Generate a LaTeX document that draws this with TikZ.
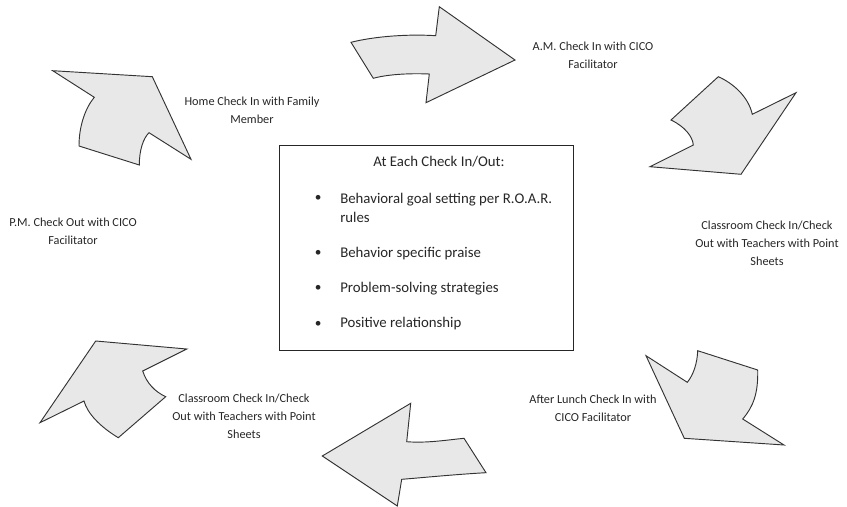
\documentclass[tikz,border=0pt]{standalone}
\usepackage{fontspec}
\setmainfont{Carlito}

\begin{document}
\begin{tikzpicture}[x=0.75pt,y=-0.75pt]
        \tikzstyle{block arrow} = [draw=black!80, line width=0.7pt, fill=black!9, line join=miter]
        \tikzstyle{stage} = [align=center, font=\fontsize{9.2}{13.4}\selectfont, text=black!85, inner sep=0pt]
        \tikzstyle{frame} = [draw=black!85, line width=0.6pt, minimum width=220.5pt, minimum height=153.75pt]
        \tikzstyle{point} = [anchor=west, align=left, font=\fontsize{11.1}{14.3}\selectfont, text=black!85, inner sep=0pt]
        \tikzstyle{dot} = [font=\fontsize{10}{12}\selectfont, text=black!85, inner sep=0pt]

        \useasboundingbox (0,0) rectangle (847,507);

        % the six curved block arrows
        \draw[block arrow] (52.7,70.7) -- (152.3,76.7) -- (191,159.3) -- (149,132.7)
            .. controls (143.3,138.3) and (139.3,150) .. (139.3,165) -- (79,146)
            .. controls (79,126.7) and (85,108.3) .. (94.3,97.3) -- cycle;
        \draw[block arrow] (351,42.3) .. controls (376,36) and (410,34) .. (435.7,35.7)
            -- (439.3,6.7) -- (515,60) -- (426,102.7) -- (429.3,74)
            .. controls (405,73) and (385,75) .. (373.3,78.3) -- cycle;
        \draw[block arrow] (718.3,76.7) .. controls (733.3,83.3) and (748.3,96.7) .. (752.3,114.3)
            -- (796,92.7) -- (741,174.3) -- (650,166.7) -- (693.3,145)
            .. controls (692.7,136.7) and (685,126.7) .. (671,120) -- cycle;
        \draw[block arrow] (646,355.7) -- (687.3,382.3)
            .. controls (693.3,375) and (697.3,363.3) .. (697.7,350.7) -- (757.7,370)
            .. controls (758.3,393.3) and (753.3,406.7) .. (742.7,419)
            -- (784,445) -- (684.3,438.3) -- cycle;
        \draw[block arrow] (410.7,403.3) -- (406.7,441.7)
            .. controls (426.7,443.3) and (446.7,440) .. (464,438.3) -- (486,472.7)
            .. controls (456.7,474.3) and (426.7,477.3) .. (401.7,479.3)
            -- (397.3,506) -- (322.3,456) -- cycle;
        \draw[block arrow] (95.7,341) -- (186.7,349) -- (142.7,371)
            .. controls (146.7,383.3) and (155,391.7) .. (165.7,396.7) -- (118.3,437.7)
            .. controls (100,426.7) and (87.3,413.3) .. (84,401) -- (40,422.7) -- cycle;

        % stages round the cycle
        \node[stage] (home) at (252,110.5) {Home Check In with Family\\Member};
        \node[stage] (am) at (593,55) {A.M. Check In with CICO\\Facilitator};
        \node[stage] (class in) at (767,243) {Classroom Check In/Check\\Out with Teachers with Point\\Sheets};
        \node[stage] (lunch) at (593,408.5) {After Lunch Check In with\\CICO Facilitator};
        \node[stage] (class out) at (244,416) {Classroom Check In/Check\\Out with Teachers with Point\\Sheets};
        \node[stage] (pm) at (73,231.5) {P.M. Check Out with CICO\\Facilitator};

        % centre box
        \node[frame] (box) at (426,247.5) {};
        \node[point, anchor=center] (title) at (439,161.5) {At Each Check In/Out:};
        \node[dot] (b1) at (318.3,198.3) {\textbullet};
        \node[dot] (b2) at (318.3,253.3) {\textbullet};
        \node[dot] (b3) at (318.3,288.3) {\textbullet};
        \node[dot] (b4) at (318.3,324) {\textbullet};
        \node[point] (goal) at (340,207.7) {Behavioral goal setting per R.O.A.R.\\rules};
        \node[point] (praise) at (340,253.3) {Behavior specific praise};
        \node[point] (solving) at (340,288.3) {Problem-solving strategies};
        \node[point] (relation) at (340,324) {Positive relationship};
\end{tikzpicture}
\end{document}
